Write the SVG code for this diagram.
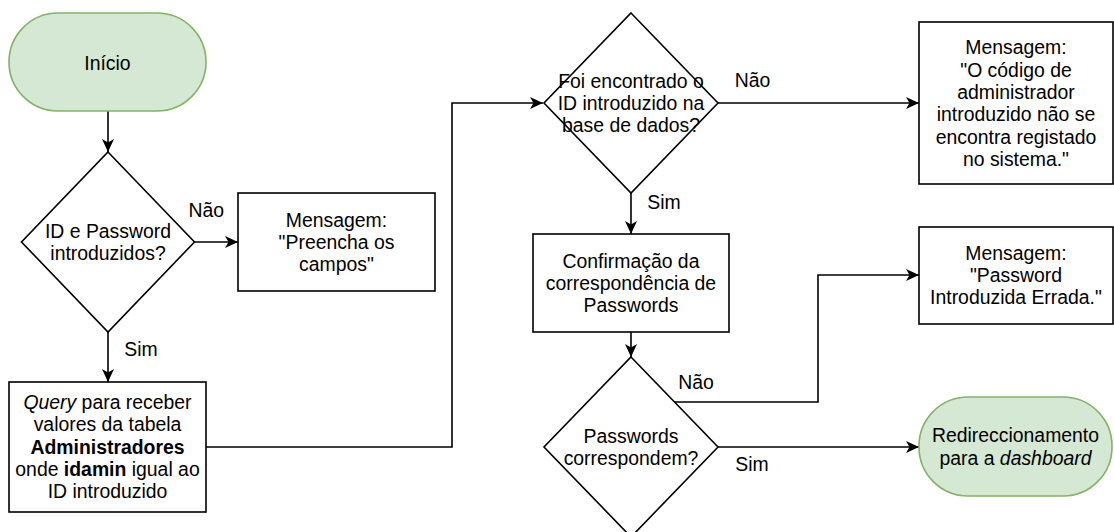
<svg xmlns="http://www.w3.org/2000/svg" width="1114" height="532" viewBox="0 0 1114 532">
  <style>
    text { font-family: "Liberation Sans", Arial, Helvetica, sans-serif; font-size: 19.4px; fill: #000; text-anchor: middle; }
    .terminal { fill: #d5e8d4; stroke: #82b366; stroke-width: 1.6; }
    .box { fill: #fff; stroke: #000; stroke-width: 1.6; }
    .edge { fill: none; stroke: #000; stroke-width: 1.6; marker-end: url(#arrow); }
    .b { font-weight: bold; }
    .i { font-style: italic; }
  </style>
  <defs>
    <marker id="arrow" markerUnits="userSpaceOnUse" markerWidth="14" markerHeight="12" refX="13" refY="6" orient="auto">
      <path d="M0,0 L13,6 L0,12 L3.5,6 Z" fill="#000"/>
    </marker>
  </defs>
  <rect width="1114" height="532" fill="#fff"/>

  <!-- connectors -->
  <g id="connectors">
    <path class="edge" d="M108,111 V152"/>
    <path class="edge" d="M194.5,242 H238"/>
    <path class="edge" d="M108,332 V382"/>
    <path class="edge" d="M206,447 H452 V103 H543"/>
    <path class="edge" d="M718,103 H919"/>
    <path class="edge" d="M631,193 V234"/>
    <path class="edge" d="M631,332 V357"/>
    <path class="edge" d="M674.5,402 H818 V275 H919"/>
    <path class="edge" d="M718,447 H919"/>
    <text x="206.3" y="216.7">Não</text>
    <text x="141" y="355.8">Sim</text>
    <text x="752.5" y="86.7">Não</text>
    <text x="664" y="209.3">Sim</text>
    <text x="696" y="389">Não</text>
    <text x="752" y="471">Sim</text>
  </g>

  <!-- nodes -->
  <g id="inicio">
    <rect class="terminal" x="9" y="13" width="197" height="98" rx="49" ry="49"/>
    <text x="107.5" y="69.5">Início</text>
  </g>

  <g id="dados-introduzidos">
    <polygon class="box" points="108,152 194.5,242 108,332 21.5,242"/>
    <text x="108" y="238">ID e Password</text>
    <text x="108" y="260.4">introduzidos?</text>
  </g>

  <g id="msg-preencha">
    <rect class="box" x="238" y="193" width="197" height="98"/>
    <text x="336.5" y="226.5">Mensagem:</text>
    <text x="336.5" y="248.8">"Preencha os</text>
    <text x="336.5" y="271.1">campos"</text>
  </g>

  <g id="query">
    <rect class="box" x="9" y="382" width="197" height="130"/>
    <text x="107.5" y="409"><tspan class="i">Query</tspan> para receber</text>
    <text x="107.5" y="431.3">valores da tabela</text>
    <text x="107.5" y="453.6" class="b">Administradores</text>
    <text x="107.5" y="475.9">onde <tspan class="b">idamin</tspan> igual ao</text>
    <text x="107.5" y="498.2">ID introduzido</text>
  </g>

  <g id="id-encontrado">
    <polygon class="box" points="631,13 718,103 631,193 544,103"/>
    <text x="631" y="87.5">Foi encontrado o</text>
    <text x="631" y="109.8">ID introduzido na</text>
    <text x="631" y="132.1">base de dados?</text>
  </g>

  <g id="msg-codigo">
    <rect class="box" x="919" y="22" width="194" height="162"/>
    <text x="1016" y="54.3">Mensagem:</text>
    <text x="1016" y="76.6">"O código de</text>
    <text x="1016" y="98.9">administrador</text>
    <text x="1016" y="121.2">introduzido não se</text>
    <text x="1016" y="143.5">encontra registado</text>
    <text x="1016" y="165.8">no sistema."</text>
  </g>

  <g id="confirmacao">
    <rect class="box" x="533" y="234" width="196" height="98"/>
    <text x="631" y="267.5">Confirmação da</text>
    <text x="631" y="289.8">correspondência de</text>
    <text x="631" y="312.1">Passwords</text>
  </g>

  <g id="passwords-correspondem">
    <polygon class="box" points="631,357 718,447 631,537 544,447"/>
    <text x="631" y="442.6">Passwords</text>
    <text x="631" y="464.9">correspondem?</text>
  </g>

  <g id="msg-password-errada">
    <rect class="box" x="919" y="227" width="194" height="97"/>
    <text x="1016" y="259.7">Mensagem:</text>
    <text x="1016" y="282">"Password</text>
    <text x="1016" y="304.3">Introduzida Errada."</text>
  </g>

  <g id="redireccionamento">
    <rect class="terminal" x="919" y="397" width="193" height="99" rx="49" ry="49"/>
    <text x="1015.5" y="442.3">Redireccionamento</text>
    <text x="1015.5" y="464.6">para a <tspan class="i">dashboard</tspan></text>
  </g>
</svg>
